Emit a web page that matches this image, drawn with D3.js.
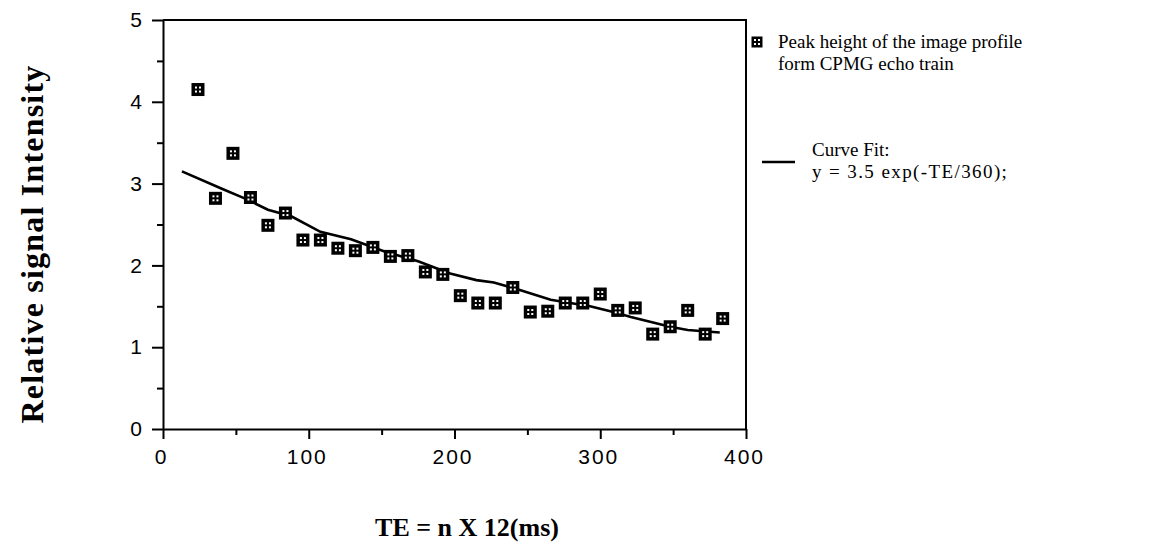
<!DOCTYPE html>
<html lang="en">
<head>
    <meta charset="UTF-8">
    <title>Relative signal intensity vs TE</title>
    <style>
        body { margin: 0; background: #fff; }
        .tick text { font-family: "Liberation Sans", Arial, sans-serif; font-size: 21px; letter-spacing: 2px; fill: #000; }
        .axis path, .axis line { stroke: #000; stroke-width: 2; }
        .title { font-family: "Liberation Serif", "Times New Roman", serif; font-weight: bold; fill: #000; }
        .legend text { font-family: "Liberation Serif", "Times New Roman", serif; font-size: 19px; fill: #000; }
    </style>
</head>
<body>
    <svg id="chart" width="1161" height="556"></svg>

    <script src="https://d3js.org/d3.v7.min.js"></script>
    <script>
        // data
        const te = [24, 36, 48, 60, 72, 84, 96, 108, 120, 132, 144, 156, 168, 180, 192, 204,
                    216, 228, 240, 252, 264, 276, 288, 300, 312, 324, 336, 348, 360, 372, 384];
        const peak = [4.15, 2.82, 3.37, 2.83, 2.49, 2.64, 2.31, 2.31, 2.21, 2.18, 2.22, 2.11, 2.12, 1.92, 1.89, 1.63,
                      1.54, 1.54, 1.73, 1.43, 1.44, 1.54, 1.54, 1.65, 1.45, 1.48, 1.16, 1.25, 1.45, 1.16, 1.35];
        const fitTE = [13, 40, 56, 72, 88, 108, 129, 152, 175, 197, 215, 227, 241, 266, 293, 309, 321, 348, 360, 382];
        const fitY = [3.15, 2.94, 2.82, 2.68, 2.60, 2.41, 2.32, 2.17, 2.05, 1.90, 1.82, 1.79, 1.72, 1.58, 1.50, 1.43, 1.37, 1.25, 1.21, 1.18];
        const xTicks = [0, 100, 200, 300, 400];
        const xMinor = [50, 150, 250, 350];
        const yTicks = [0, 1, 2, 3, 4, 5];
        const yMinor = [0.5, 1.5, 2.5, 3.5, 4.5];

        const svg = d3.select("#chart");
        const plotL = 163, plotR = 746, plotT = 20, plotB = 429;

        const x = d3.scaleLinear().domain([0, 400]).range([plotL, plotR]);
        const y = d3.scaleLinear().domain([0, 5]).range([plotB, plotT]);

        // frame (top and right)
        svg.append("path")
            .attr("d", `M${plotL},${plotT}H${plotR}V${plotB}`)
            .attr("fill", "none").attr("stroke", "#000").attr("stroke-width", 2);

        // x axis
        svg.append("g").attr("class", "axis")
            .attr("transform", `translate(0,${plotB})`)
            .call(d3.axisBottom(x).tickValues(xTicks).tickFormat(d3.format("d")).tickSize(10).tickSizeOuter(0).tickPadding(3))
            .selectAll(".tick text").attr("dy", "1.05em").attr("dx", "-2");
        svg.append("g").attr("class", "axis")
            .attr("transform", `translate(0,${plotB})`)
            .call(d3.axisBottom(x).tickValues(xMinor).tickSize(6).tickFormat(""))
            .select(".domain").remove();

        // y axis
        svg.append("g").attr("class", "axis")
            .attr("transform", `translate(${plotL},0)`)
            .call(d3.axisLeft(y).tickValues(yTicks).tickFormat(d3.format("d")).tickSize(11).tickSizeOuter(0).tickPadding(8));
        svg.append("g").attr("class", "axis")
            .attr("transform", `translate(${plotL},0)`)
            .call(d3.axisLeft(y).tickValues(yMinor).tickSize(6).tickFormat(""))
            .select(".domain").remove();

        // curve fit
        const line = d3.line().x(d => x(d[0])).y(d => y(d[1]));
        svg.append("path")
            .datum(fitTE.map((t, i) => [t, fitY[i]]))
            .attr("d", line)
            .attr("fill", "none").attr("stroke", "#000").attr("stroke-width", 2.6);

        // square markers with four white dots
        function marker(g, s) {
            const h = s / 2;
            g.append("rect").attr("x", -h).attr("y", -h).attr("width", s).attr("height", s).attr("fill", "#000");
            [[-3, -3], [1, -3], [-3, 1], [1, 1]].forEach(p => {
                g.append("rect").attr("x", p[0]).attr("y", p[1]).attr("width", 2).attr("height", 2).attr("fill", "#fff");
            });
        }
        svg.selectAll(".pt")
            .data(te.map((t, i) => [t, peak[i]]))
            .enter().append("g")
            .attr("class", "pt")
            .attr("transform", d => `translate(${x(d[0])},${y(d[1])})`)
            .each(function() { marker(d3.select(this), 13); });

        // titles
        svg.append("text").attr("class", "title")
            .attr("transform", "translate(43,244) rotate(-90)")
            .attr("text-anchor", "middle")
            .style("font-size", "32px").style("letter-spacing", "1.2px")
            .text("Relative signal Intensity");
        svg.append("text").attr("class", "title")
            .attr("x", 467).attr("y", 536)
            .attr("text-anchor", "middle")
            .style("font-size", "26px")
            .text("TE = n X 12(ms)");

        // legend
        const lg = svg.append("g").attr("class", "legend");
        marker(lg.append("g").attr("transform", "translate(757,42)"), 11);
        lg.append("text").attr("x", 778).attr("y", 48).text("Peak height of the image profile");
        lg.append("text").attr("x", 778).attr("y", 70).text("form CPMG echo train");
        lg.append("line").attr("x1", 762).attr("x2", 795).attr("y1", 162).attr("y2", 162)
            .attr("stroke", "#000").attr("stroke-width", 2.4);
        lg.append("text").attr("x", 812).attr("y", 156).text("Curve Fit:");
        lg.append("text").attr("x", 812).attr("y", 178).style("letter-spacing", "1.4px")
            .text("y = 3.5 exp(-TE/360);");
    </script>
</body>
</html>
